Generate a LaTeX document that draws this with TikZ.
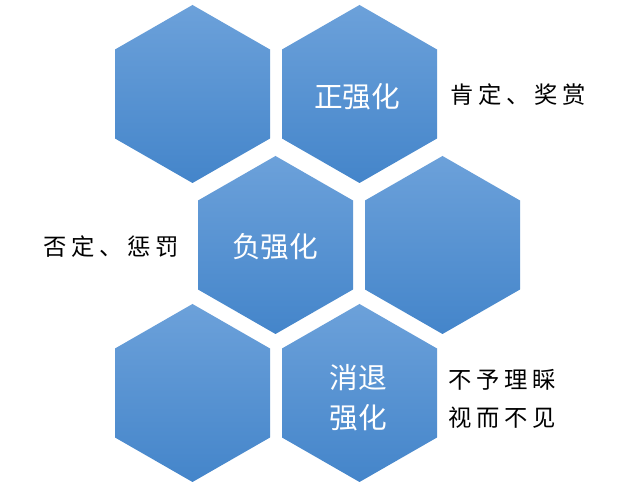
\documentclass[tikz,border=0pt]{standalone}
\usepackage{fontspec}
\newfontfamily\cjk{Noto Sans CJK SC}
\newfontfamily\cjksp[LetterSpace=20]{Noto Sans CJK SC}
\definecolor{hextop}{RGB}{108,161,218}
\definecolor{hexbot}{RGB}{68,133,202}
\begin{document}
\begin{tikzpicture}[x=0.75pt,y=-0.75pt]
\tikzset{
  hexfill/.style={top color=hextop, bottom color=hexbot, draw=none},
  inlabel/.style={text=white, font=\cjk\fontsize{21.5pt}{30pt}\selectfont, align=center, inner sep=0pt},
  outlabel/.style={text=black, font=\cjksp\fontsize{17.5pt}{28.5pt}\selectfont, align=left, inner sep=0pt}
}
\useasboundingbox[fill=white] (0,0) rectangle (640,491);
\foreach \cx/\cy in {192.5/94, 359.5/94, 275.5/245, 442.5/245, 192.5/393, 359.5/393}{
  \path[hexfill] (\cx,\cy-89) -- (\cx+77.5,\cy-44.5) -- (\cx+77.5,\cy+44.5) -- (\cx,\cy+89) -- (\cx-77.5,\cy+44.5) -- (\cx-77.5,\cy-44.5) -- cycle;
}
\node[inlabel] (zq) at (357,97) {正强化};
\node[inlabel] (fq) at (275,247) {负强化};
\node[inlabel] (xt) at (358,398) {消退\\强化};
\node[outlabel, anchor=west] (kd) at (450,95) {肯定、奖赏};
\node[outlabel, anchor=west] (fd) at (43,247) {否定、惩罚};
\node[outlabel, anchor=west] (bl) at (448,399) {不予理睬\\视而不见};
\end{tikzpicture}
\end{document}
